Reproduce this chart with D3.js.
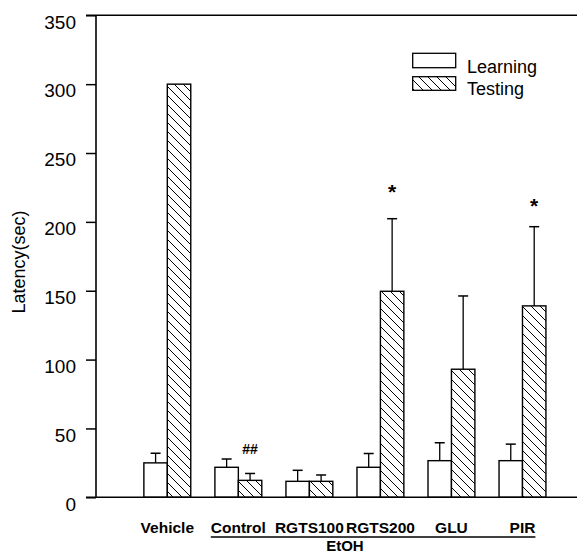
<!DOCTYPE html>
<html>
<head>
<meta charset="utf-8">
<script src="https://cdn.jsdelivr.net/npm/d3@7"></script>
<style>
  html, body { margin: 0; padding: 0; background: #fff; }
  svg { display: block; font-family: "Liberation Sans", Arial, sans-serif; }
</style>
</head>
<body>
<svg id="chart" width="577" height="554"></svg>
<script>
// ---- data ----
const categories = ["Vehicle", "Control", "RGTS100", "RGTS200", "GLU", "PIR"];
const series = ["Learning", "Testing"];
const learning = [25, 21.8, 11.6, 21.8, 26.6, 26.6];
const learningErr = [7, 6, 8, 10, 13, 12];
const testing = [300, 12.3, 11.6, 149.6, 93, 139];
const testingErr = [0, 5, 4.6, 52.7, 53.2, 57.5];
const yTicks = [0, 50, 100, 150, 200, 250, 300, 350];
const groupLabel = "EtOH";
const groupMembers = ["Control", "RGTS100", "RGTS200", "GLU", "PIR"];
const annotations = [
  { category: "Control", series: "Testing", text: "##", value: 35 },
  { category: "RGTS200", series: "Testing", text: "*", value: 224.8 },
  { category: "PIR", series: "Testing", text: "*", value: 214.7 }
];
const yTitle = "Latency(sec)";

// ---- layout ----
const svg = d3.select("#chart");
const axisX = 96, yTop = 15.3, yBottom = 497.3;

const y = d3.scaleLinear().domain([0, 350]).range([yBottom, yTop]);
const x = d3.scaleBand().domain(categories).range([131.8, 558]).paddingInner(0.34).paddingOuter(0.17);
const xs = d3.scaleBand().domain(series).range([0, x.bandwidth()]);

const defs = svg.append("defs");
const pat = defs.append("pattern").attr("id", "hatch")
  .attr("patternUnits", "userSpaceOnUse").attr("width", 9).attr("height", 9);
pat.append("rect").attr("width", 9).attr("height", 9).attr("fill", "#fff");
pat.append("path").attr("d", "M0,0 L9,9 M-2,7 L2,11 M7,-2 L11,2")
  .attr("stroke", "#000").attr("stroke-width", 1);

// rows
const rows = categories.map((c, i) => ({
  c,
  vals: [
    { s: "Learning", v: learning[i], e: learningErr[i] },
    { s: "Testing", v: testing[i], e: testingErr[i] }
  ]
}));

// bars
const g = svg.append("g");
rows.forEach(r => {
  r.vals.forEach(d => {
    const bx = x(r.c) + xs(d.s);
    g.append("rect")
      .attr("x", bx).attr("y", y(d.v))
      .attr("width", xs.bandwidth()).attr("height", y(0) - y(d.v))
      .attr("fill", d.s === "Testing" ? "url(#hatch)" : "#fff")
      .attr("stroke", "#000").attr("stroke-width", 1.4);
    if (d.e > 0) {
      const cx = bx + xs.bandwidth() / 2;
      g.append("line").attr("x1", cx).attr("x2", cx)
        .attr("y1", y(d.v)).attr("y2", y(d.v + d.e))
        .attr("stroke", "#000").attr("stroke-width", 1.3);
      g.append("line").attr("x1", cx - 5).attr("x2", cx + 5)
        .attr("y1", y(d.v + d.e)).attr("y2", y(d.v + d.e))
        .attr("stroke", "#000").attr("stroke-width", 1.5);
    }
  });
});

// y axis
const ax = svg.append("g").attr("transform", `translate(${axisX},0)`)
  .call(d3.axisLeft(y).tickValues(yTicks).tickSize(10).tickPadding(10).tickFormat(d3.format("d")));
ax.select(".domain").remove();
ax.selectAll(".tick line").attr("stroke", "#000").attr("stroke-width", 1.5);
ax.selectAll(".tick text").attr("font-size", 19).attr("dy", 12.7)
  .attr("font-family", "'Liberation Sans', Arial, sans-serif").attr("fill", "#000");

svg.append("line").attr("x1", axisX).attr("x2", axisX).attr("y1", yTop).attr("y2", yBottom)
  .attr("stroke", "#000").attr("stroke-width", 1.6);
svg.append("line").attr("x1", axisX - 10).attr("x2", 577).attr("y1", yTop).attr("y2", yTop)
  .attr("stroke", "#000").attr("stroke-width", 1.6);
svg.append("line").attr("x1", axisX - 10).attr("x2", 577).attr("y1", yBottom).attr("y2", yBottom)
  .attr("stroke", "#000").attr("stroke-width", 1.6);

// y title
svg.append("text").attr("transform", `translate(25,262) rotate(-90)`)
  .attr("text-anchor", "middle").attr("font-size", 18).text(yTitle);

// x labels
const labels = svg.append("g");
categories.forEach(c => {
  labels.append("text").attr("class", "xl").attr("data-c", c)
    .attr("x", x(c) + x.bandwidth() / 2).attr("y", 533)
    .attr("text-anchor", "middle").attr("font-size", 15.5).attr("font-weight", "bold")
    .text(c);
});
const bb = labels.selectAll("text").filter(function () {
  return groupMembers.includes(this.getAttribute("data-c"));
}).nodes().map(n => n.getBBox());
const ux1 = d3.min(bb, b => b.x), ux2 = d3.max(bb, b => b.x + b.width);
svg.append("line").attr("x1", ux1).attr("x2", ux2).attr("y1", 537).attr("y2", 537)
  .attr("stroke", "#000").attr("stroke-width", 1.5);
const ec = (x(groupMembers[1]) + x(groupMembers[2]) + x.bandwidth()) / 2;
svg.append("text").attr("x", ec).attr("y", 551).attr("text-anchor", "middle")
  .attr("font-size", 15).attr("font-weight", "bold").text(groupLabel);

// annotations
annotations.forEach(a => {
  const cx = x(a.category) + xs(a.series) + xs.bandwidth() / 2;
  const star = a.text === "*";
  svg.append("text").attr("x", cx).attr("y", y(a.value))
    .attr("dy", star ? 11 : 5)
    .attr("text-anchor", "middle").attr("font-weight", "bold")
    .attr("font-size", star ? 21 : 14).text(a.text);
});

// legend
const legend = svg.append("g");
const lx = 412.7, lw = 43;
const legendRows = [
  { s: "Learning", y0: 53.3, h: 14.4, ty: 73.3 },
  { s: "Testing", y0: 76.7, h: 13.6, ty: 95 }
];
legendRows.forEach(r => {
  legend.append("rect").attr("x", lx).attr("y", r.y0).attr("width", lw).attr("height", r.h)
    .attr("fill", r.s === "Testing" ? "url(#hatch)" : "#fff")
    .attr("stroke", "#000").attr("stroke-width", 1.3);
  legend.append("text").attr("x", 467).attr("y", r.ty).attr("font-size", 18).text(r.s);
});
</script>
</body>
</html>
